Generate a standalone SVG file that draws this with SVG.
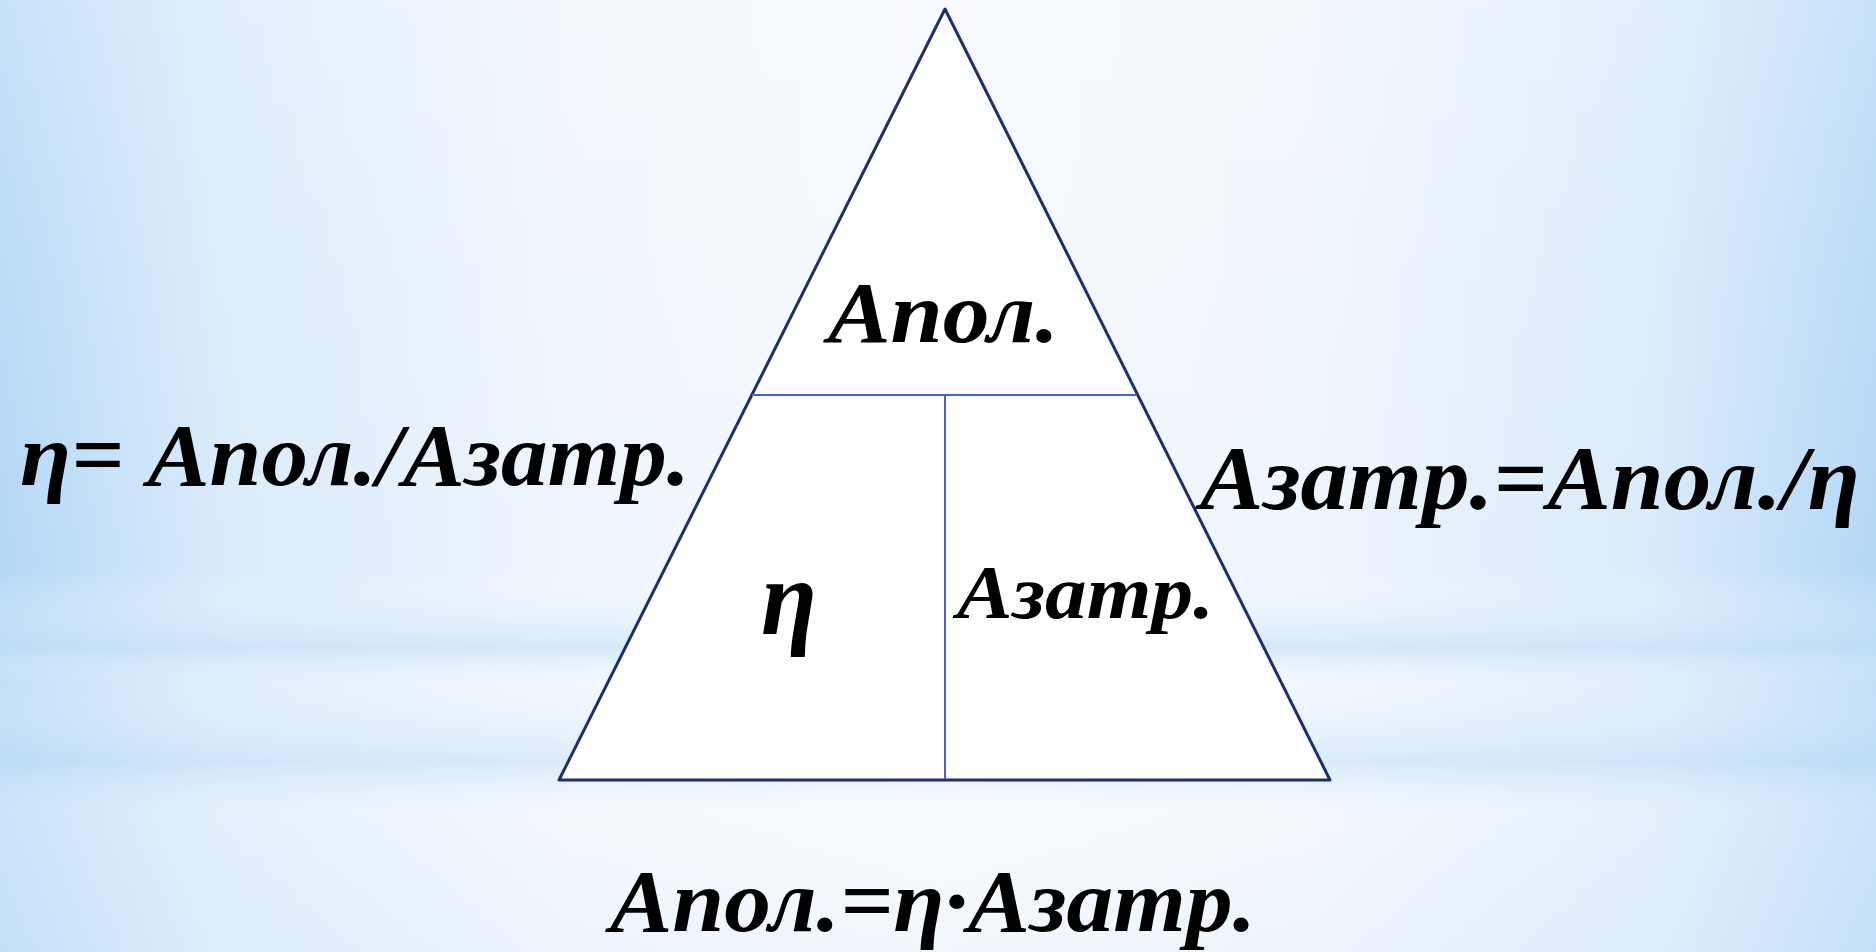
<svg xmlns="http://www.w3.org/2000/svg" width="1876" height="952" viewBox="0 0 1876 952">
<defs>
<linearGradient id="bgH" x1="0" y1="0" x2="1" y2="0">
<stop offset="0" stop-color="#b4d7f6"/>
<stop offset="0.12" stop-color="#d9ebfa"/>
<stop offset="0.3" stop-color="#eef5fc"/>
<stop offset="0.5" stop-color="#f6f9fd"/>
<stop offset="0.7" stop-color="#eef5fc"/>
<stop offset="0.88" stop-color="#d9ebfa"/>
<stop offset="1" stop-color="#b4d7f6"/>
</linearGradient>
<linearGradient id="bgV" x1="0" y1="0" x2="0" y2="1">
<stop offset="0" stop-color="#ffffff" stop-opacity="0.25"/>
<stop offset="0.3" stop-color="#ffffff" stop-opacity="0.1"/>
<stop offset="0.6" stop-color="#ffffff" stop-opacity="0"/>
<stop offset="0.68" stop-color="#c4e0f7" stop-opacity="0.6"/>
<stop offset="0.72" stop-color="#ffffff" stop-opacity="0.2"/>
<stop offset="0.8" stop-color="#c4e0f7" stop-opacity="0.5"/>
<stop offset="0.85" stop-color="#ffffff" stop-opacity="0.3"/>
<stop offset="1" stop-color="#e8f2fb" stop-opacity="0.3"/>
</linearGradient>
</defs>
<style>
.t{font-family:"Liberation Serif","DejaVu Serif",serif;font-weight:bold;font-style:italic;fill:#000}
.outer{fill:#ffffff;stroke:#1f2f6e;stroke-width:3;stroke-linejoin:round}
.inner{stroke:#4a62c4;stroke-width:2;fill:none}
</style>
<rect x="0" y="0" width="1876" height="952" fill="url(#bgH)"/>
<rect x="0" y="0" width="1876" height="952" fill="url(#bgV)"/>

<g id="triangle">
<polygon class="outer" points="945,9 559,780 1330,780"/>
</g>
<g id="connectors">
<line class="inner" x1="752" y1="395" x2="1137" y2="395"/>
<line class="inner" x1="945" y1="395" x2="945" y2="779"/>
</g>

<g id="node-apol">
<text class="t" x="828" y="342" font-size="86" textLength="231" lengthAdjust="spacingAndGlyphs">Апол.</text>
</g>
<g id="node-eta">
<text class="t" x="761" y="634" font-size="108" textLength="56" lengthAdjust="spacingAndGlyphs">η</text>
</g>
<g id="node-azatr">
<text class="t" x="957" y="618" font-size="76" textLength="257" lengthAdjust="spacingAndGlyphs">Азатр.</text>
</g>

<g id="formula-left">
<text class="t" x="20" y="485" font-size="89" textLength="670" lengthAdjust="spacingAndGlyphs">η= Апол./Азатр.</text>
</g>
<g id="formula-right">
<text class="t" x="1200" y="509" font-size="90" textLength="660" lengthAdjust="spacingAndGlyphs">Азатр.=Апол./η</text>
</g>
<g id="formula-bottom">
<text class="t" x="610" y="931" font-size="89" textLength="646" lengthAdjust="spacingAndGlyphs">Апол.=η·Азатр.</text>
</g>
</svg>
